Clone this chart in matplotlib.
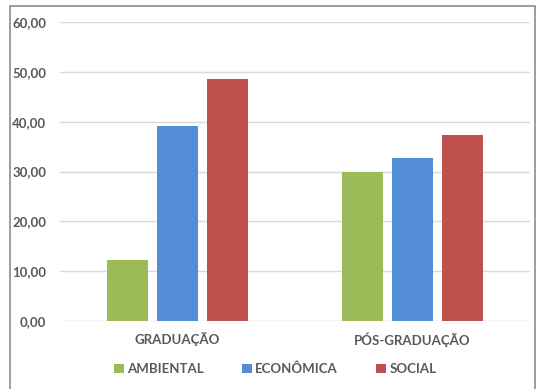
import matplotlib.pyplot as plt
import numpy as np
from matplotlib.patches import Rectangle

# ------------ DATA ------------
categories = ["GRADUAÇÃO", "PÓS-GRADUAÇÃO"]
series_labels = ["AMBIENTAL", "ECONÔMICA", "SOCIAL"]
ambiental = [12.2, 30.0]
economica = [39.2, 32.7]
social = [48.6, 37.3]
y_ticks = [0, 10, 20, 30, 40, 50, 60]

colors = ['#9BBB59', '#538DD5', '#C0504D']
text_color = '#595959'

plt.rcParams['font.family'] = ['Lato', 'DejaVu Sans']
plt.rcParams['font.weight'] = 'bold'

fig = plt.figure(figsize=(5.36, 3.89), dpi=100)
ax = fig.add_axes([60 / 536, 1 - 321 / 389, 470 / 536, 299 / 389])

x = np.arange(len(categories))
width = 0.175
step = 0.213
for i, (vals, lab) in enumerate(zip([ambiental, economica, social], series_labels)):
    ax.bar(x + (i - 1) * step, vals, width=width, color=colors[i], label=lab, zorder=3)

ax.set_xlim(-0.5, 1.5)
ax.set_ylim(0, 60)
ax.set_yticks(y_ticks)
ax.set_yticklabels([f"{v:.2f}".replace('.', ',') for v in y_ticks])
ax.set_xticks(x)
ax.set_xticklabels(categories)
ax.yaxis.grid(True, color='#D9D9D9', linewidth=1, zorder=0)
ax.tick_params(axis='both', length=0, colors=text_color, labelsize=9.5)
ax.tick_params(axis='y', pad=10)
ax.tick_params(axis='x', pad=8)
for s in ax.spines.values():
    s.set_visible(False)

fig.legend(loc='center', bbox_to_anchor=(0.513, 1 - 369 / 389), ncol=3, frameon=False,
           prop={'size': 9.5, 'weight': 'bold'}, labelcolor=text_color,
           handlelength=0.75, handleheight=0.75, handletextpad=0.25, columnspacing=2.9)

# outer frame
fig.patches.append(Rectangle((10 / 536, -0.05), 525 / 536, 1 - 6 / 389 + 0.05,
                             transform=fig.transFigure, fill=False,
                             edgecolor='#8C8C8C', linewidth=1.2))

fig.savefig('out.png', dpi=100)
